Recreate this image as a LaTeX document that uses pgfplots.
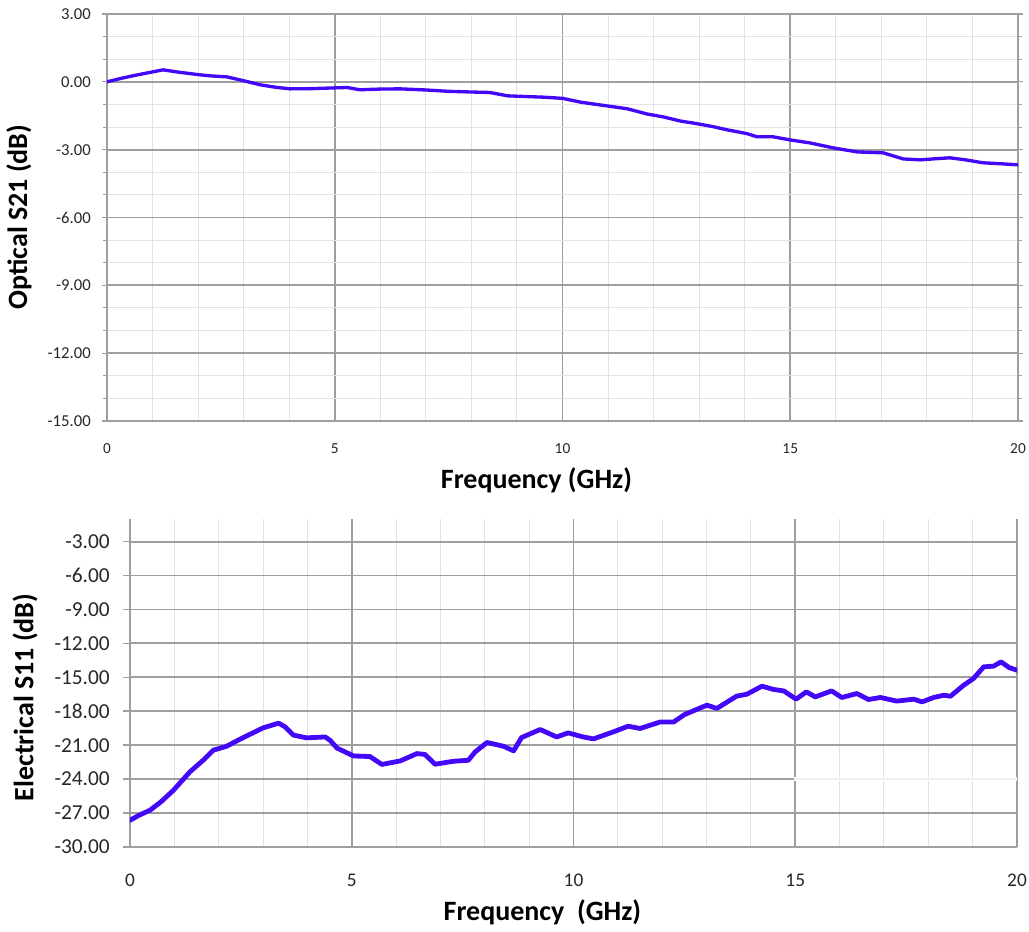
\documentclass[border=0pt]{standalone}
\usepackage{fontspec}
\setmainfont{Carlito}
\usepackage{pgfplots}
\pgfplotsset{compat=1.18}
\definecolor{curve}{RGB}{68,8,248}
\definecolor{majgrid}{RGB}{158,158,158}
\definecolor{mingrid}{RGB}{226,226,226}

\pgfplotstableread{
x y
0 0
0.3 0.15
0.6 0.28
0.9 0.40
1.23 0.53
1.6 0.42
2.04 0.31
2.3 0.26
2.63 0.22
3.0 0.05
3.36 -0.13
3.7 -0.24
4.02 -0.31
4.5 -0.30
4.96 -0.27
5.27 -0.25
5.55 -0.35
6.0 -0.32
6.43 -0.31
7.0 -0.36
7.5 -0.42
8.0 -0.45
8.4 -0.47
8.8 -0.62
9.2 -0.65
9.6 -0.68
10.0 -0.73
10.4 -0.90
10.82 -1.02
11.42 -1.19
11.85 -1.42
12.21 -1.55
12.58 -1.73
12.95 -1.85
13.3 -1.98
13.61 -2.12
14.05 -2.29
14.27 -2.43
14.62 -2.43
15.0 -2.57
15.43 -2.70
15.94 -2.92
16.47 -3.10
17.04 -3.14
17.48 -3.41
17.85 -3.45
18.2 -3.40
18.5 -3.36
18.85 -3.45
19.23 -3.58
19.6 -3.62
20 -3.67
}\optical

\pgfplotstableread{
x y
0 -27.64
0.2 -27.2
0.45 -26.75
0.7 -26.0
0.98 -24.98
1.35 -23.36
1.65 -22.33
1.88 -21.44
2.18 -21.09
2.48 -20.47
3.0 -19.47
3.35 -19.05
3.5 -19.38
3.68 -20.1
3.98 -20.35
4.4 -20.27
4.51 -20.56
4.67 -21.26
4.8 -21.5
5.04 -21.95
5.41 -22.0
5.68 -22.7
6.09 -22.39
6.47 -21.74
6.65 -21.82
6.88 -22.68
7.29 -22.42
7.63 -22.33
7.78 -21.6
8.05 -20.76
8.42 -21.09
8.65 -21.5
8.83 -20.32
9.25 -19.61
9.62 -20.27
9.88 -19.91
10.22 -20.27
10.45 -20.44
10.9 -19.82
11.23 -19.32
11.5 -19.52
11.96 -18.94
12.26 -18.94
12.5 -18.3
12.86 -17.7
13.01 -17.46
13.23 -17.75
13.68 -16.66
13.91 -16.49
14.25 -15.78
14.51 -16.07
14.74 -16.2
15.02 -16.93
15.25 -16.28
15.45 -16.73
15.82 -16.2
16.05 -16.78
16.39 -16.43
16.65 -16.96
16.92 -16.78
17.29 -17.1
17.67 -16.93
17.86 -17.17
18.12 -16.78
18.35 -16.58
18.5 -16.67
18.8 -15.69
19.02 -15.1
19.25 -14.07
19.47 -14.01
19.64 -13.63
19.82 -14.13
20.0 -14.37
}\electrical

\begin{document}
\begin{tikzpicture}
\path[use as bounding box] (0pt,0pt) rectangle (771.75pt,-699pt);

\begin{axis}[
  at={(80.25pt,-315.75pt)}, anchor=south west,
  scale only axis, width=683.25pt, height=305.25pt,
  xmin=0, xmax=20, ymin=-15, ymax=3,
  xtick={0,5,10,15,20}, ytick={-15,-12,-9,-6,-3,0,3},
  minor xtick={1,2,3,4,6,7,8,9,11,12,13,14,16,17,18,19},
  minor ytick={-14,-13,-11,-10,-8,-7,-5,-4,-2,-1,1,2},
  grid=both,
  major grid style={majgrid, line width=1.4pt},
  minor grid style={mingrid, line width=0.8pt},
  axis line style={majgrid, line width=1.4pt},
  tick align=outside,
  major tick length=4pt, minor tick length=3pt,
  ytick style={majgrid, line width=0.8pt},
  xtick style={draw=none},
  /pgf/number format/assume math mode=true,
  yticklabel style={/pgf/number format/.cd, fixed, fixed zerofill, precision=2, /tikz/.cd,
    font=\fontsize{12.5}{14}\selectfont, text=black!85, anchor=east, inner sep=0pt, xshift=-8pt},
  xticklabel style={font=\fontsize{11.5}{13}\selectfont, text=black!85, anchor=center, inner sep=0pt},
  xticklabel shift=17pt,
  xlabel={Frequency (GHz)},
  ylabel={Optical S21 (dB)},
  xlabel style={font=\bfseries\fontsize{21}{24}\selectfont, at={(axis description cs:0.4715,-0.145)}, anchor=center},
  ylabel style={font=\bfseries\fontsize{21}{24}\selectfont, at={(axis description cs:-0.0966,0.501)}, anchor=center},
]
\addplot[curve, line width=2.5pt, line join=round, line cap=round] table[x=x,y=y] {\optical};
\end{axis}

\begin{axis}[
  at={(97.5pt,-635.25pt)}, anchor=south west,
  scale only axis, width=665.25pt, height=246pt,
  xmin=0, xmax=20, ymin=-30, ymax=-1,
  xtick={0,5,10,15,20}, ytick={-30,-27,...,-3},
  minor xtick={1,2,3,4,6,7,8,9,11,12,13,14,16,17,18,19},
  xmajorgrids, xminorgrids, ymajorgrids,
  major grid style={majgrid, line width=1.4pt},
  minor grid style={mingrid, line width=0.8pt},
  axis x line*=bottom, axis y line*=left,
  axis line style={majgrid, line width=1.4pt},
  tick align=outside,
  major tick length=5pt,
  ytick style={majgrid, line width=1.2pt},
  xtick style={draw=none},
  /pgf/number format/assume math mode=true,
  yticklabel style={/pgf/number format/.cd, fixed, fixed zerofill, precision=2, /tikz/.cd,
    font=\fontsize{16}{18}\selectfont, text=black!85, anchor=east, inner sep=0pt, xshift=-10pt},
  xticklabel style={font=\fontsize{14.5}{16}\selectfont, text=black!85, anchor=center, inner sep=0pt},
  xticklabel shift=20pt,
  xlabel={Frequency\ \ (GHz)},
  ylabel={Electrical S11 (dB)},
  xlabel style={font=\bfseries\fontsize{21}{24}\selectfont, at={(axis description cs:0.465,-0.198)}, anchor=center},
  ylabel style={font=\bfseries\fontsize{21}{24}\selectfont, at={(axis description cs:-0.1184,0.456)}, anchor=center},
]
\draw[white, opacity=0.85, line width=3pt] (axis cs:14.97,-24) -- (axis cs:20.05,-24);
\pgfplotsinvokeforeach{1,...,14}{
  \draw[majgrid, line width=0.9pt] (axis cs:#1,-24) ++(0,-2.3pt) -- ++(0,4.6pt);
}
\addplot[curve, line width=3.6pt, line join=round, line cap=round] table[x=x,y=y] {\electrical};
\end{axis}
\end{tikzpicture}
\end{document}
